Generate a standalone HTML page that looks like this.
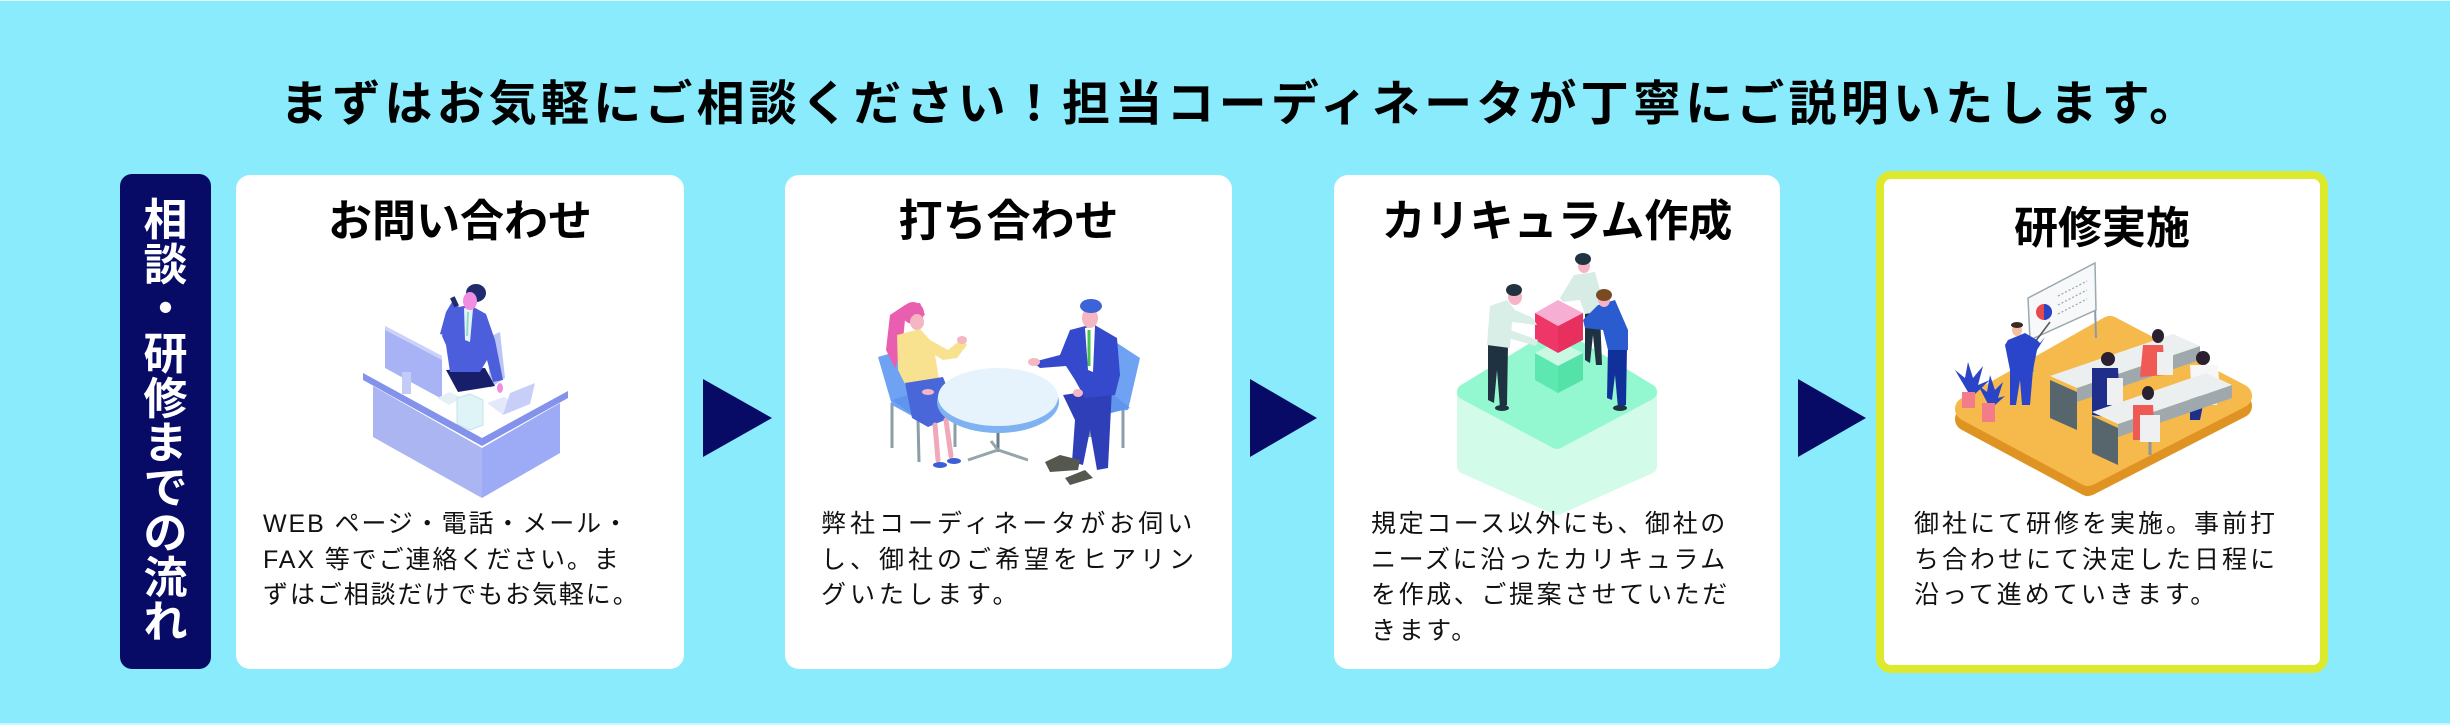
<!DOCTYPE html>
<html lang="ja">
<head>
<meta charset="utf-8">
<style>
  html,body{margin:0;padding:0;}
  body{width:2450px;height:725px;position:relative;overflow:hidden;background:#8aebfd;
    font-family:"Liberation Sans","Noto Sans CJK JP",sans-serif;color:#111;}
  .topline{position:absolute;left:0;top:0;width:2450px;height:1px;background:#e9fcff;}
  .botline{position:absolute;left:0;top:723px;width:2450px;height:2px;background:#c9f6ff;}
  .title{position:absolute;left:280px;top:81px;font-size:48px;line-height:48px;font-weight:bold;
    letter-spacing:4.2px;white-space:nowrap;color:#000;}
  .side{position:absolute;left:120px;top:174px;width:91px;height:495px;background:#070b66;border-radius:12px;}
  .sidetxt{position:absolute;left:120px;top:199px;width:91px;}
  .sidetxt div{height:44.7px;line-height:44.7px;font-size:44px;font-weight:bold;color:#fff;text-align:center;}
  .card{position:absolute;top:175px;height:494px;background:#fff;border-radius:14px;}
  .card4{position:absolute;left:1876px;top:171px;width:452px;height:502px;box-sizing:border-box;
    border:8px solid #dde92c;background:#fff;border-radius:15px;}
  .ct{position:absolute;font-size:44px;line-height:44px;font-weight:bold;text-align:center;white-space:nowrap;color:#000;}
  .tx{position:absolute;top:507px;font-size:25px;line-height:35.5px;white-space:nowrap;color:#111;}
  svg{position:absolute;left:0;top:0;}
</style>
</head>
<body>
<div class="topline"></div>
<div class="botline"></div>

<div class="title">まずはお気軽にご相談ください！担当コーディネータが丁寧にご説明いたします。</div>

<div class="side"></div>
<div class="sidetxt">
  <div>相</div><div>談</div><div>・</div><div>研</div><div>修</div><div>ま</div><div>で</div><div>の</div><div>流</div><div>れ</div>
</div>

<div class="card" style="left:236px;width:448px;"></div>
<div class="card" style="left:785px;width:447px;"></div>
<div class="card" style="left:1334px;width:446px;"></div>
<div class="card4"></div>

<svg width="2450" height="725" viewBox="0 0 2450 725" xmlns="http://www.w3.org/2000/svg">
  <!-- arrows -->
  <polygon points="703,379 703,457 772,418" fill="#070b66"/>
  <polygon points="1250,379 1250,457 1317,418" fill="#070b66"/>
  <polygon points="1798,379 1798,457 1866,418" fill="#070b66"/>

  <!-- ===== Card 1 illustration ===== -->
  <polygon points="487,338 500,332 505,378 490,388" fill="#bac4f6"/>
  <polygon points="385,326 442,356 442,399 385,368" fill="#a7b3f4"/>
  <polygon points="385,326 442,356 442,360 385,330" fill="#cbd2f9"/>
  <rect x="402" y="372" width="9" height="22" fill="#c3cbf7"/>
  <polygon points="437,398 450,392 462,398 449,405" fill="#e3f1f7"/>
  <!-- person -->
  <polygon points="446,370 485,368 495,386 458,392" fill="#181f6a"/>
  <polygon points="452,308 470,305 486,314 495,340 503,380 493,382 487,360 480,372 450,372 446,345 442,336" fill="#4c5edb"/>
  <polygon points="440,334 446,312 452,302 459,305 453,318 451,337" fill="#4c5edb"/>
  <polygon points="464,308 473,309 470,342 465,340" fill="#e5f3f7"/>
  <line x1="468" y1="312" x2="467" y2="336" stroke="#8fd8d8" stroke-width="2"/>
  <ellipse cx="476" cy="293" rx="10" ry="9" fill="#1e2b6d"/>
  <ellipse cx="470" cy="301" rx="7" ry="9" fill="#f28ee2"/>
  <rect x="452" y="297" width="5" height="10" fill="#1e2b6d" transform="rotate(-25 454 302)"/>
  <ellipse cx="500" cy="388" rx="3" ry="5" fill="#f28ee2"/>
  <!-- desk -->
  <polygon points="487,403 503,415 520,407 504,397" fill="#e3e8fc"/>
  <polygon points="510,393 535,383 530,404 503,415" fill="#c7cff8"/>
  <polygon points="457,398 470,394 483,400 483,425 470,430 457,424" fill="#dff4f7" stroke="#c5e3ea" stroke-width="1"/>
  <polygon points="363,373 482,438 568,391 568,398 482,446 363,380" fill="#8392ea"/>
  <polygon points="373,386 482,448 482,498 373,437" fill="#aab5f1"/>
  <polygon points="482,448 560,403 560,453 482,498" fill="#9daaf6"/>

  <!-- ===== Card 2 illustration ===== -->
  <g stroke="#8c9ea8" stroke-width="3">
    <line x1="892" y1="403" x2="892" y2="448"/>
    <line x1="918" y1="420" x2="919" y2="462"/>
    <line x1="955" y1="420" x2="955" y2="447"/>
    <line x1="1123" y1="407" x2="1123" y2="448"/>
    <line x1="1098" y1="420" x2="1098" y2="462"/>
    <line x1="1090" y1="418" x2="1090" y2="437"/>
  </g>
  <polygon points="878,357 895,352 930,398 937,413 925,423 892,405" fill="#6fa2f2"/>
  <polygon points="892,400 925,390 957,410 927,425" fill="#5f95ee"/>
  <polygon points="1117,343 1140,358 1128,410 1093,413 1105,395" fill="#6fa2f2"/>
  <polygon points="1080,400 1110,392 1130,408 1100,416" fill="#5f95ee"/>
  <!-- woman -->
  <polygon points="890,315 905,305 920,303 925,315 905,320 902,350 895,368 886,350" fill="#e95eae"/>
  <ellipse cx="913" cy="313" rx="11" ry="11" fill="#e95eae"/>
  <ellipse cx="917" cy="322" rx="7" ry="8" fill="#f5b5c2"/>
  <polygon points="897,335 920,329 930,340 948,350 958,342 964,340 967,345 957,358 943,360 935,355 940,385 908,390 898,370" fill="#f9e28f"/>
  <polygon points="905,383 943,377 952,400 945,420 928,427 912,418" fill="#4a67da"/>
  <g stroke="#f1a9ba" stroke-width="5" stroke-linecap="round">
    <line x1="935" y1="425" x2="938" y2="460"/>
    <line x1="946" y1="420" x2="951" y2="456"/>
  </g>
  <ellipse cx="940" cy="465" rx="7" ry="3" fill="#3c5fd6"/>
  <ellipse cx="954" cy="461" rx="7" ry="3" fill="#3c5fd6"/>
  <ellipse cx="928" cy="392" rx="6" ry="3" fill="#f5b5c2"/>
  <ellipse cx="962" cy="340" rx="5" ry="4" fill="#f5b5c2"/>
  <!-- table -->
  <line x1="998" y1="428" x2="998" y2="452" stroke="#6b7d88" stroke-width="3"/>
  <polyline points="968,460 998,450 1028,460" fill="none" stroke="#94a5ae" stroke-width="3"/>
  <line x1="998" y1="450" x2="991" y2="441" stroke="#94a5ae" stroke-width="3"/>
  <ellipse cx="998" cy="402" rx="61" ry="31" fill="#7fb2f1"/>
  <ellipse cx="998" cy="397" rx="60" ry="29" fill="#e7f3fc"/>
  <!-- man -->
  <polygon points="1063,395 1112,388 1108,468 1097,470 1090,430 1083,465 1072,462 1075,420" fill="#2f3fb8"/>
  <polygon points="1070,330 1093,324 1117,338 1120,375 1115,395 1085,398 1075,380 1066,366 1040,368 1033,362 1060,355" fill="#3449cb"/>
  <polygon points="1085,328 1095,326 1093,372 1088,370" fill="#ffffff"/>
  <line x1="1089" y1="330" x2="1089" y2="366" stroke="#45c24a" stroke-width="3"/>
  <ellipse cx="1090" cy="318" rx="8" ry="10" fill="#f5b7c2"/>
  <ellipse cx="1091" cy="306" rx="11" ry="7" fill="#3c63d8"/>
  <ellipse cx="1034" cy="362" rx="6" ry="4" fill="#f5b7c2"/>
  <ellipse cx="1078" cy="393" rx="5" ry="4" fill="#f5b7c2"/>
  <polygon points="1045,462 1060,455 1080,460 1078,470 1050,472" fill="#55584f"/>
  <polygon points="1065,478 1085,470 1093,478 1070,485" fill="#55584f"/>

  <!-- ===== Card 3 illustration ===== -->
  <polygon points="1557,336 1649,392 1649,466 1557,507 1465,466 1465,392" fill="#d3fbea" stroke="#d3fbea" stroke-width="16" stroke-linejoin="round"/>
  <polygon points="1557,336 1649,392 1557,441 1465,392" fill="#93f8cf" stroke="#93f8cf" stroke-width="16" stroke-linejoin="round"/>
  <polygon points="1535,353 1558,341 1583,353 1558,366" fill="#c9f8e3"/>
  <polygon points="1535,353 1558,366 1558,393 1535,380" fill="#5de8b2"/>
  <polygon points="1558,366 1583,353 1583,380 1558,393" fill="#54e2a8"/>
  <!-- back person -->
  <polygon points="1585,312 1600,312 1602,365 1596,365 1593,335 1590,363 1585,360" fill="#1f3242"/>
  <polygon points="1574,275 1595,272 1600,290 1597,312 1585,314 1580,300 1563,302 1560,298" fill="#d6ece5"/>
  <ellipse cx="1584" cy="266" rx="6" ry="7" fill="#f5b5c6"/>
  <ellipse cx="1583" cy="259" rx="8" ry="6" fill="#1f3340"/>
  <!-- red cube -->
  <polygon points="1535,313 1558,300 1583,313 1558,326" fill="#f7aed3"/>
  <polygon points="1535,313 1558,326 1558,353 1535,340" fill="#ef3668"/>
  <polygon points="1558,326 1583,313 1583,340 1558,353" fill="#e8305f"/>
  <!-- left man -->
  <polygon points="1488,343 1508,345 1507,405 1500,408 1497,370 1494,403 1488,400" fill="#1f3242"/>
  <polygon points="1490,306 1507,300 1515,310 1533,318 1537,325 1512,322 1510,348 1487,345" fill="#d8eee6"/>
  <polygon points="1510,330 1538,340 1536,346 1508,338" fill="#d8eee6"/>
  <ellipse cx="1515" cy="297" rx="7" ry="8" fill="#f5b5c6"/>
  <ellipse cx="1514" cy="290" rx="8" ry="6" fill="#1f3340"/>
  <ellipse cx="1502" cy="408" rx="7" ry="3" fill="#1f3340"/>
  <!-- right person -->
  <polygon points="1608,348 1627,348 1626,405 1618,408 1615,375 1612,400 1607,398" fill="#11319a"/>
  <polygon points="1598,305 1615,300 1628,330 1628,350 1608,350 1603,330 1585,328 1583,320" fill="#2a5ccf"/>
  <ellipse cx="1604" cy="300" rx="6" ry="7" fill="#f5b5c6"/>
  <ellipse cx="1604" cy="295" rx="8" ry="6" fill="#7a4a22"/>
  <ellipse cx="1620" cy="408" rx="7" ry="3" fill="#1f3340"/>

  <!-- ===== Card 4 illustration ===== -->
  <polygon points="2110,338 2240,406 2088,484 1967,419" fill="#df9322" stroke="#df9322" stroke-width="24" stroke-linejoin="round"/>
  <polygon points="2110,328 2240,396 2088,474 1967,409" fill="#f6b94b" stroke="#f6b94b" stroke-width="24" stroke-linejoin="round"/>
  <!-- whiteboard -->
  <line x1="2095" y1="305" x2="2096" y2="338" stroke="#8b9ba6" stroke-width="2"/>
  <line x1="2031" y1="338" x2="2033" y2="372" stroke="#8b9ba6" stroke-width="2"/>
  <polygon points="2028,298 2095,263 2096,310 2030,340" fill="#f6f8f9" stroke="#9aa8b0" stroke-width="1.5"/>
  <g stroke="#9aa5aa" stroke-width="1.2" stroke-dasharray="2 2">
    <line x1="2058" y1="296" x2="2087" y2="281"/>
    <line x1="2058" y1="305" x2="2087" y2="290"/>
    <line x1="2058" y1="314" x2="2087" y2="299"/>
  </g>
  <circle cx="2044" cy="312" r="8" fill="#e84b4b"/>
  <path d="M2044 304 A8 8 0 0 1 2044 320 Z" fill="#2a44c8"/>
  <!-- plants -->
  <g fill="#2a44c8">
    <polygon points="1968,392 1955,370 1965,378 1968,362 1973,378 1983,366 1978,385 1990,380 1975,394"/>
    <polygon points="1988,404 1978,385 1987,392 1990,375 1995,390 2003,382 1998,398 2005,396 1994,406"/>
  </g>
  <rect x="1962" y="392" width="13" height="16" fill="#f27c8a"/>
  <rect x="1982" y="403" width="13" height="19" fill="#f27c8a"/>
  <!-- presenter -->
  <line x1="2035" y1="342" x2="2050" y2="322" stroke="#555" stroke-width="1.5"/>
  <polygon points="2008,340 2025,333 2037,340 2040,343 2045,337 2037,350 2033,370 2030,405 2022,405 2020,380 2016,405 2010,405 2010,370 2005,345" fill="#2a45c9"/>
  <ellipse cx="2017" cy="330" rx="5" ry="6" fill="#f3c0a0"/>
  <ellipse cx="2017" cy="325" rx="6" ry="3" fill="#3a2a22"/>
  <!-- desk row 1 -->
  <polygon points="2077,388 2200,346 2200,360 2077,402" fill="#9fa9ad"/>
  <polygon points="2050,380 2077,392 2077,430 2050,418" fill="#56666c"/>
  <polygon points="2050,376 2077,388 2200,346 2173,334" fill="#eceff0"/>
  <!-- people row 1 -->
  <polygon points="2143,345 2163,345 2165,375 2140,377" fill="#ef5a55"/>
  <ellipse cx="2158" cy="336" rx="6" ry="7" fill="#2a2030"/>
  <rect x="2157" y="352" width="16" height="23" fill="#eef0f1"/>
  <polygon points="2092,368 2118,368 2120,405 2112,418 2092,415" fill="#1f2e8a"/>
  <ellipse cx="2108" cy="359" rx="7" ry="7" fill="#2a2030"/>
  <rect x="2107" y="378" width="16" height="27" fill="#eef0f1"/>
  <polygon points="2190,365 2218,365 2220,395 2192,398" fill="#f7f7f7"/>
  <polygon points="2190,395 2205,395 2200,420 2190,420" fill="#1f2e8a"/>
  <ellipse cx="2203" cy="358" rx="7" ry="7" fill="#2a2030"/>
  <rect x="2200" y="382" width="17" height="23" fill="#eef0f1"/>
  <!-- desk row 2 -->
  <polygon points="2118,424 2232,385 2232,398 2118,437" fill="#9fa9ad"/>
  <polygon points="2092,416 2118,428 2118,465 2092,453" fill="#56666c"/>
  <polygon points="2092,412 2118,424 2232,385 2206,373" fill="#eceff0"/>
  <polygon points="2133,405 2153,405 2155,440 2133,440" fill="#ef5a55"/>
  <ellipse cx="2148" cy="393" rx="6" ry="7" fill="#2a2030"/>
  <rect x="2140" y="415" width="20" height="27" fill="#eef0f1"/>
  <line x1="2150" y1="442" x2="2150" y2="455" stroke="#8a979c" stroke-width="3"/>
</svg>

<div class="ct" style="left:236px;width:448px;top:200px;">お問い合わせ</div>
<div class="ct" style="left:785px;width:447px;top:200px;">打ち合わせ</div>
<div class="ct" style="left:1334px;width:446px;top:200px;">カリキュラム作成</div>
<div class="ct" style="left:1876px;width:452px;top:207px;">研修実施</div>

<div class="tx" style="left:263px;letter-spacing:1.9px;">WEB ページ・電話・メール・<br>FAX 等でご連絡ください。ま<br>ずはご相談だけでもお気軽に。</div>
<div class="tx" style="left:821px;letter-spacing:4px;">弊社コーディネータがお伺い<br>し、御社のご希望をヒアリン<br>グいたします。</div>
<div class="tx" style="left:1371px;letter-spacing:2.6px;">規定コース以外にも、御社の<br>ニーズに沿ったカリキュラム<br>を作成、ご提案させていただ<br>きます。</div>
<div class="tx" style="left:1914px;letter-spacing:3px;">御社にて研修を実施。事前打<br>ち合わせにて決定した日程に<br>沿って進めていきます。</div>
</body>
</html>
